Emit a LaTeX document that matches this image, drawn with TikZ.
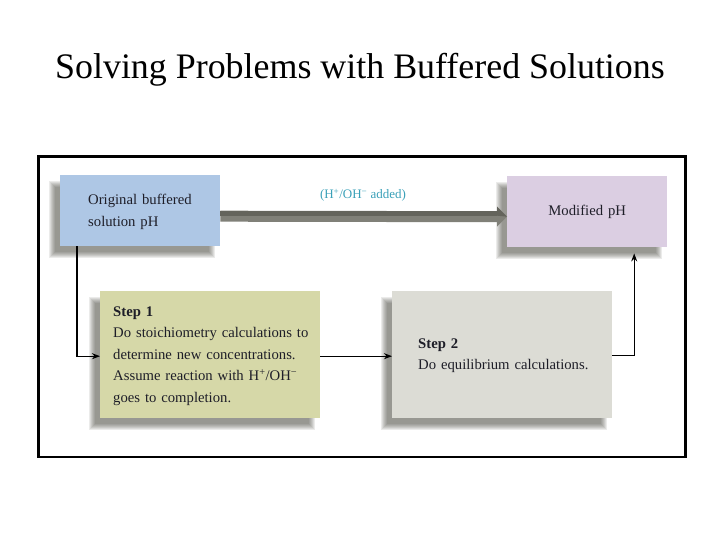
\documentclass[tikz,border=0pt]{standalone}
\usepackage{fontspec}
\setmainfont{Liberation Serif}
\usetikzlibrary{calc,backgrounds,arrows.meta}
\definecolor{bluebox}{RGB}{174,199,229}
\definecolor{purplebox}{RGB}{219,206,226}
\definecolor{olivebox}{RGB}{214,216,168}
\definecolor{graybox}{RGB}{220,220,213}
\definecolor{tealtext}{RGB}{58,160,184}
\definecolor{arrowdark}{RGB}{100,100,92}
\definecolor{arrowmid}{RGB}{128,128,120}
\definecolor{shadowcol}{RGB}{60,60,50}
\definecolor{textcol}{RGB}{30,30,40}
\newcommand{\lefttext}[3]{\hspace*{#1}\raisebox{#2}{\begin{tabular}[c]{@{}l@{}}#3\end{tabular}}}
\begin{document}
\begin{tikzpicture}[x=1pt,y=-1pt,
  box/.style={rectangle, inner sep=0pt, anchor=north west, text=textcol,
    text width=#1, align=left},
  smallbox/.style={box=160pt, minimum height=71pt,
    font=\fontsize{14.7}{22}\selectfont},
  stepbox/.style={box=220pt, minimum height=127pt,
    font=\fontsize{14.7}{21.5}\selectfont},
  conn/.style={line width=1.2pt, -{Stealth[length=8pt,width=6pt]}},
  frame/.style={line width=2.5pt}]
\useasboundingbox (0,0) rectangle (720,540);

\node[font=\fontsize{35.9}{40}\selectfont] (title) at (360,70) {Solving Problems with Buffered Solutions};

\node[frame, draw, rectangle, minimum width=647pt, minimum height=300pt, anchor=north west] (frame) at (37,155.5) {};

\node[smallbox, fill=bluebox] (orig) at (60,175)
  {\lefttext{28pt}{-2.5pt}{Original buffered\\solution pH}};
\node[smallbox, fill=purplebox, align=center] (mod) at (507,176)
  {Modified pH};
\node[stepbox, fill=olivebox] (step1) at (100,291)
  {\lefttext{13pt}{-1pt}{\textbf{Step 1}\\Do stoichiometry calculations to\\determine new concentrations.\\Assume reaction with H\textsuperscript{+}/OH\textsuperscript{\char"2212}\\goes to completion.}};
\node[stepbox, fill=graybox] (step2) at (392,291)
  {\lefttext{26pt}{-1pt}{\textbf{Step 2}\\Do equilibrium calculations.}};

\begin{scope}[on background layer]
\foreach \n in {orig,mod,step1,step2}{
  \foreach \i in {-3,...,3}{
    \fill[shadowcol, opacity=0.1] ($(\n.north west)+(-8-\i,9-\i)$) rectangle ($(\n.south east)+(-8+\i,9+\i)$);
  }
}
\end{scope}

\fill[arrowmid]
  (orig.east) -- ($(mod.west)+(-10,-0.5)$) -- ($(mod.west)+(-10,-5)$)
  -- ($(mod.west)+(0,5)$) -- ($(mod.west)+(-10,15)$) -- ($(mod.west)+(-10,10.5)$)
  -- ($(orig.east)+(0,11)$) -- cycle;
\fill[arrowdark] (orig.east) rectangle ($(mod.west)+(-10,4)$);
\fill[arrowdark] ($(mod.west)+(-10,-5)$) -- ($(mod.west)+(0,5)$) -- ($(mod.west)+(-10,4)$) -- cycle;
\node[text=tealtext, font=\fontsize{13}{15}\selectfont] (lab) at (363,195)
  {(H\textsuperscript{+}/OH\textsuperscript{\char"2212} added)};

\coordinate (origout) at ($(orig.south west)+(17,0)$);
\coordinate (modin) at ($(mod.south)+(47,6)$);
\draw[conn] (origout) |- ($(step1.west)+(0,1.5)$);
\draw[conn] ($(step1.east)+(0,1.5)$) -- ($(step2.west)+(0,1.5)$);
\draw[conn] ($(step2.east)+(0,0.5)$) -| (modin);
\end{tikzpicture}
\end{document}
